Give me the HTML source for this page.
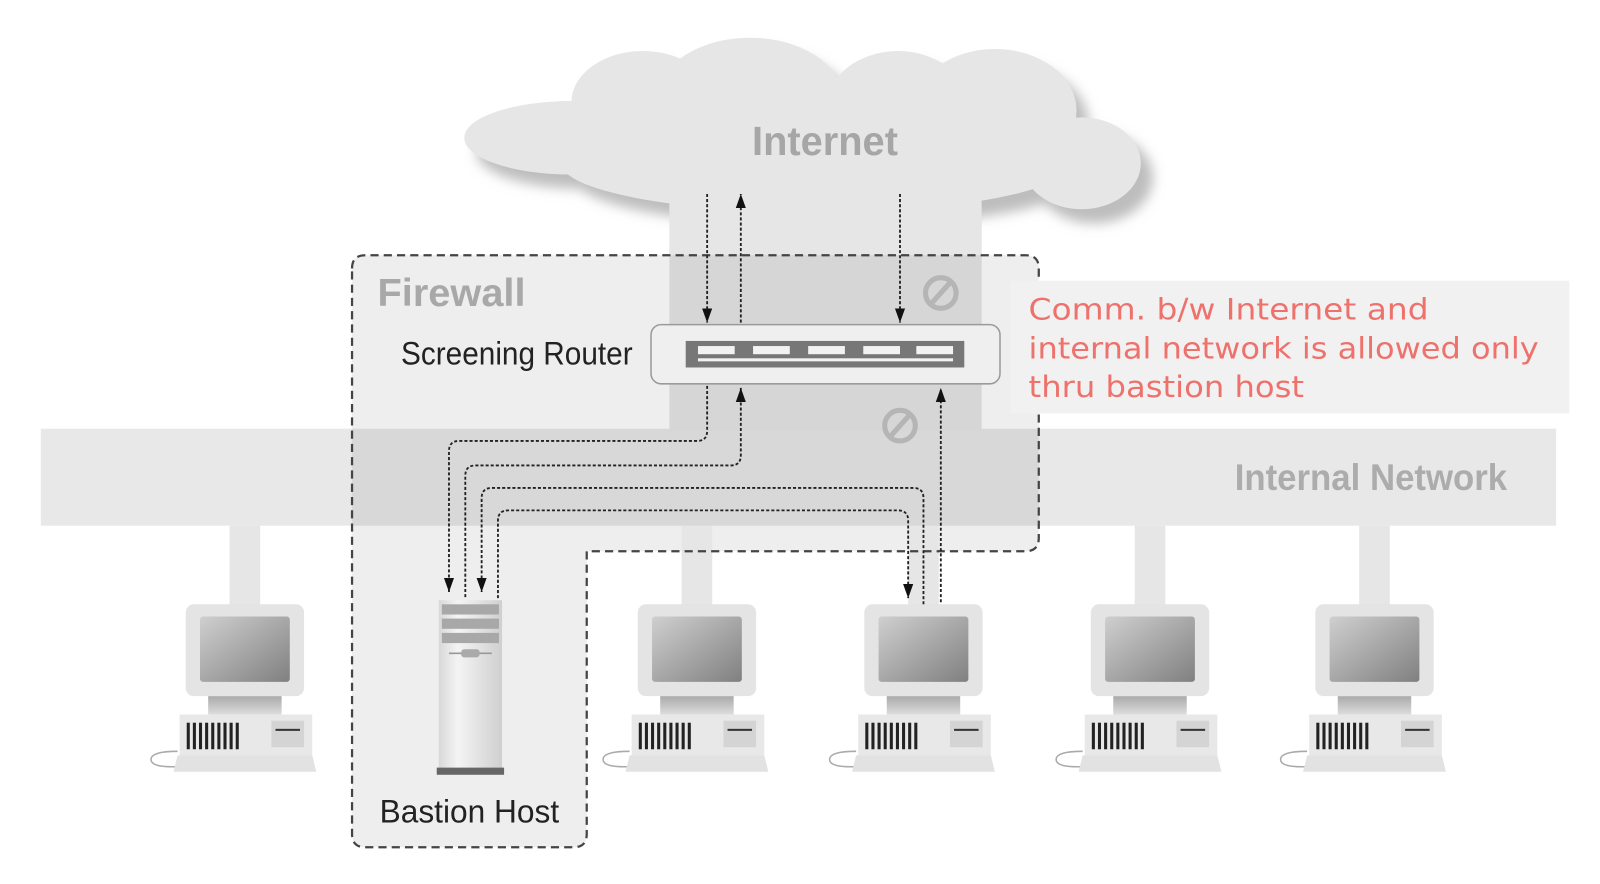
<!DOCTYPE html>
<html><head><meta charset="utf-8"><style>html,body{margin:0;padding:0;background:#fff;}svg{display:block}</style></head>
<body>
<svg width="1600" height="884" viewBox="0 0 1568 866" preserveAspectRatio="none" xmlns="http://www.w3.org/2000/svg">
<defs>
<filter id="blur" x="-20%" y="-20%" width="140%" height="140%"><feGaussianBlur stdDeviation="6"/></filter>
<linearGradient id="scr" x1="0" y1="0" x2="1" y2="1"><stop offset="0" stop-color="#cfcfcf"/><stop offset="1" stop-color="#808080"/></linearGradient>
<linearGradient id="neck" x1="0" y1="0" x2="0" y2="1"><stop offset="0" stop-color="#aaa"/><stop offset="1" stop-color="#ddd"/></linearGradient>
<linearGradient id="tower" x1="0" y1="0" x2="1" y2="0"><stop offset="0" stop-color="#d8d8d8"/><stop offset="0.3" stop-color="#f4f4f4"/><stop offset="1" stop-color="#cfcfcf"/></linearGradient>
<marker id="ah" viewBox="0 0 14 10" refX="14" refY="5" markerWidth="14" markerHeight="10" markerUnits="userSpaceOnUse" orient="auto"><path d="M0,0 L14,5 L0,10 Z" fill="#111"/></marker>
<g id="pc">
 <rect x="-15" y="515" width="30" height="80" fill="#e6e6e6"/>
 <path d="M-66,736 q-26,0 -26,8 q0,8 26,7" fill="none" stroke="#aaa" stroke-width="1.5"/>
 <rect x="-58" y="592" width="116" height="90" rx="8" fill="#e4e4e4"/>
 <rect x="-44" y="604" width="88" height="64" rx="3" fill="url(#scr)"/>
 <rect x="-36" y="682" width="72" height="18" fill="url(#neck)"/>
 <rect x="-64" y="700" width="130" height="40" fill="#e8e8e8"/>
 <g fill="#222">
  <rect x="-57" y="708" width="3" height="26"/><rect x="-51" y="708" width="3" height="26"/><rect x="-45" y="708" width="3" height="26"/><rect x="-39" y="708" width="3" height="26"/><rect x="-33" y="708" width="3" height="26"/><rect x="-27" y="708" width="3" height="26"/><rect x="-21" y="708" width="3" height="26"/><rect x="-15" y="708" width="3" height="26"/><rect x="-9" y="708" width="3" height="26"/>
 </g>
 <rect x="26" y="706" width="32" height="26" fill="#d4d4d4"/>
 <rect x="30" y="714" width="24" height="2" fill="#333"/>
 <path d="M-66,740 L66,740 L70,756 L-70,756 Z" fill="#e2e2e2"/>
</g>
</defs>

<rect x="40" y="420" width="1485" height="95" fill="#e8e8e8"/>
<rect x="656" y="190" width="306" height="232" fill="#e6e6e6"/>

<g fill="#bdbdbd" filter="url(#blur)" transform="translate(12,14)">
 <ellipse cx="560" cy="135" rx="105" ry="36"/><ellipse cx="630" cy="100" rx="70" ry="50"/><ellipse cx="735" cy="95" rx="90" ry="58"/><ellipse cx="880" cy="105" rx="70" ry="55"/><ellipse cx="975" cy="108" rx="80" ry="60"/><ellipse cx="1060" cy="160" rx="58" ry="45"/><ellipse cx="800" cy="160" rx="250" ry="48"/>
</g>
<g fill="#e6e6e6">
 <ellipse cx="560" cy="135" rx="105" ry="36"/><ellipse cx="630" cy="100" rx="70" ry="50"/><ellipse cx="735" cy="95" rx="90" ry="58"/><ellipse cx="880" cy="105" rx="70" ry="55"/><ellipse cx="975" cy="108" rx="80" ry="60"/><ellipse cx="1060" cy="160" rx="58" ry="45"/><ellipse cx="800" cy="160" rx="250" ry="48"/>
</g>
<rect x="656" y="190" width="306" height="60" fill="#e6e6e6"/>
<text x="737" y="152" font-family="Liberation Sans, sans-serif" font-weight="bold" font-size="40" fill="#a6a6a6" textLength="143" lengthAdjust="spacingAndGlyphs">Internet</text>

<path d="M345,263 Q345,250 358,250 L1005,250 Q1018,250 1018,263 L1018,527 Q1018,540 1005,540 L575,540 L575,817 Q575,830 562,830 L358,830 Q345,830 345,817 Z" fill="rgba(0,0,0,0.065)"/>

<text x="370" y="300" font-family="Liberation Sans, sans-serif" font-weight="bold" font-size="38" fill="#a8a8a8" textLength="145" lengthAdjust="spacingAndGlyphs">Firewall</text>
<text x="393" y="357" font-family="Liberation Sans, sans-serif" font-size="32" fill="#222" textLength="227" lengthAdjust="spacingAndGlyphs">Screening Router</text>
<text x="1210" y="480" font-family="Liberation Sans, sans-serif" font-weight="bold" font-size="36" fill="#acacac" textLength="267" lengthAdjust="spacingAndGlyphs">Internal Network</text>

<g stroke="#b5b5b5" stroke-width="5" fill="none">
 <circle cx="922" cy="287" r="15"/><line x1="913" y1="297" x2="931" y2="277"/>
 <circle cx="882" cy="417" r="15"/><line x1="873" y1="427" x2="891" y2="407"/>
</g>

<rect x="638" y="318" width="342" height="58" rx="10" fill="#efefef" stroke="#9a9a9a" stroke-width="1.5"/>
<rect x="672" y="334" width="273" height="26" fill="#777"/>
<g fill="#f2f2f2">
 <rect x="684" y="339" width="36" height="8"/><rect x="738" y="339" width="36" height="8"/><rect x="792" y="339" width="36" height="8"/><rect x="846" y="339" width="36" height="8"/><rect x="898" y="339" width="36" height="8"/>
 <rect x="684" y="351" width="250" height="3"/>
</g>

<use href="#pc" x="240"/>
<use href="#pc" x="683"/>
<use href="#pc" x="905"/>
<use href="#pc" x="1127"/>
<use href="#pc" x="1347"/>

<path d="M345,263 Q345,250 358,250 L1005,250 Q1018,250 1018,263 L1018,527 Q1018,540 1005,540 L575,540 L575,817 Q575,830 562,830 L358,830 Q345,830 345,817 Z" fill="none" stroke="#444" stroke-width="2.2" stroke-dasharray="8,5"/>

<rect x="430" y="588" width="62" height="170" fill="url(#tower)"/>
<rect x="433" y="592" width="56" height="10" fill="#a8a8a8"/>
<rect x="433" y="606" width="56" height="10" fill="#a8a8a8"/>
<rect x="433" y="620" width="56" height="10" fill="#a8a8a8"/>
<line x1="440" y1="640" x2="482" y2="640" stroke="#999" stroke-width="1.5"/>
<rect x="452" y="636" width="18" height="8" rx="3" fill="#aaa"/>
<rect x="428" y="752" width="66" height="7" fill="#666"/>
<text x="372" y="806" font-family="Liberation Sans, sans-serif" font-size="32" fill="#222" textLength="176" lengthAdjust="spacingAndGlyphs">Bastion Host</text>

<g fill="none" stroke="#222" stroke-width="1.8" stroke-dasharray="3,2">
 <path d="M693,190 L693,316" marker-end="url(#ah)"/>
 <path d="M726,316 L726,190" marker-end="url(#ah)"/>
 <path d="M882,190 L882,316" marker-end="url(#ah)"/>
 <path d="M693,378 L693,422 Q693,432 683,432 L450,432 Q440,432 440,442 L440,580" marker-end="url(#ah)"/>
 <path d="M456,585 L456,466 Q456,456 466,456 L716,456 Q726,456 726,446 L726,380" marker-end="url(#ah)"/>
 <path d="M922,590 L922,380" marker-end="url(#ah)"/>
 <path d="M905,592 L905,488 Q905,478 895,478 L482,478 Q472,478 472,488 L472,580" marker-end="url(#ah)"/>
 <path d="M488,586 L488,510 Q488,500 498,500 L880,500 Q890,500 890,510 L890,586" marker-end="url(#ah)"/>
</g>

<rect x="990" y="275" width="548" height="130" fill="#f1f1f1"/>
<g font-family="DejaVu Sans, Liberation Sans, sans-serif" font-size="29" fill="#ee716c">
 <text x="1008" y="313" textLength="392" lengthAdjust="spacingAndGlyphs">Comm. b/w Internet and</text>
 <text x="1008" y="351" textLength="500" lengthAdjust="spacingAndGlyphs">internal network is allowed only</text>
 <text x="1008" y="389" textLength="270" lengthAdjust="spacingAndGlyphs">thru bastion host</text>
</g>
</svg>
</body></html>
